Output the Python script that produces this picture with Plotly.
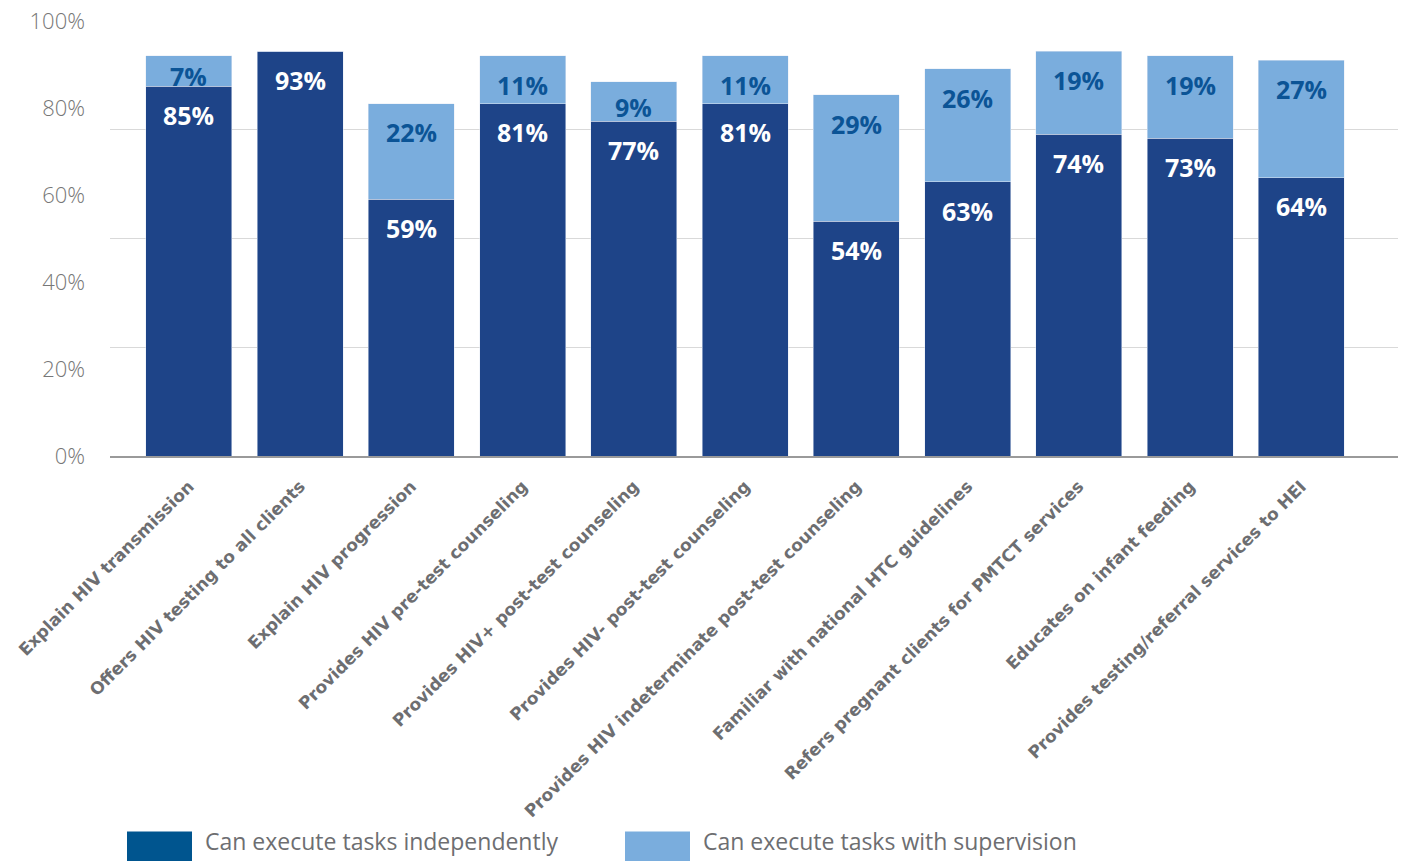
import plotly.graph_objects as go

categories = [
    "Explain HIV transmission",
    "Offers HIV testing to all clients",
    "Explain HIV progression",
    "Provides HIV pre-test counseling",
    "Provides HIV+ post-test counseling",
    "Provides HIV- post-test counseling",
    "Provides HIV indeterminate post-test counseling",
    "Familiar with national HTC guidelines",
    "Refers pregnant clients for PMTCT services",
    "Educates on infant feeding",
    "Provides testing/referral services to HEI",
]
independent = [85, 93, 59, 81, 77, 81, 54, 63, 74, 73, 64]
supervision = [7, 0, 22, 11, 9, 11, 29, 26, 19, 19, 27]
series_names = ["Can execute tasks independently", "Can execute tasks with supervision"]
y_ticks = [0, 20, 40, 60, 80, 100]

DARK = "#1e4488"
LIGHT = "#7aaddd"
LEG_DARK = "#00558f"
LABEL_BLUE = "#0b5496"
GRAY = "#6d6e71"

x = list(range(len(categories)))

fig = go.Figure()
fig.add_trace(go.Bar(x=x, y=independent, name=series_names[0], marker_color=DARK,
                     width=0.773, showlegend=False, hoverinfo="y"))
fig.add_trace(go.Bar(x=x, y=supervision, name=series_names[1], marker_color=LIGHT,
                     width=0.773, showlegend=False, hoverinfo="y"))

annotations = []
for i in x:
    d = independent[i]
    s = supervision[i]
    annotations.append(dict(x=i, y=d - min(6.6, d / 2), xref="x", yref="y",
                            text=f"{d}%", showarrow=False,
                            font=dict(family="Open Sans", size=25, color="white", weight=700)))
    if s > 0:
        annotations.append(dict(x=i, y=d + s - min(6.6, s / 2 + 1.2), xref="x", yref="y",
                                text=f"{s}%", showarrow=False,
                                font=dict(family="Open Sans", size=25, color=LABEL_BLUE, weight=700)))

# custom legend
legend_colors = [LEG_DARK, LIGHT]
legend_x0 = [127, 625]
W, H = 1403, 861
ml, mr, mt, mb = 110, 5, 17, 405
pw = W - ml - mr
ph = H - mt - mb
shapes = []
for k, name in enumerate(series_names):
    x0 = (legend_x0[k] - ml) / pw
    x1 = (legend_x0[k] + 65 - ml) / pw
    y0 = (H - mb - 866) / ph
    y1 = (H - mb - 835) / ph
    shapes.append(dict(type="rect", xref="paper", yref="paper", x0=x0, x1=x1, y0=y0, y1=y1,
                       fillcolor=legend_colors[k], line_width=0))
    annotations.append(dict(xref="paper", yref="paper", x=(legend_x0[k] + 76 - ml) / pw,
                            y=(H - mb - 845) / ph, xanchor="left", yanchor="middle",
                            text=name, showarrow=False,
                            font=dict(family="Open Sans", size=23, color=GRAY)))

fig.update_layout(
    width=W, height=H,
    margin=dict(l=ml, r=mr, t=mt, b=mb),
    barmode="stack",
    plot_bgcolor="white", paper_bgcolor="white",
    xaxis=dict(range=[-0.71, 10.87], tickmode="array", tickvals=x, ticktext=categories,
               tickangle=-45, showgrid=False, showline=True, linecolor="#9a9a9a", linewidth=1.5,
               ticks="", zeroline=False, ticklabelstandoff=12,
               tickfont=dict(family="DejaVu Sans", size=17, color=GRAY, weight=700)),
    yaxis=dict(range=[0, 100], tickmode="array", tickvals=[0, 25, 50, 75, 100],
               showticklabels=False, showgrid=True, gridcolor="#d9d9d9", gridwidth=1,
               zeroline=False, showline=False, ticks=""),
    yaxis2=dict(range=[0, 100], overlaying="y", side="left", tickmode="array",
                tickvals=y_ticks, ticktext=[f"{v}%" for v in y_ticks], showgrid=False,
                zeroline=False, showline=False, ticks="", ticklabelstandoff=24,
                tickfont=dict(family="Open Sans", size=22, color="#777777", weight=300)),
    annotations=annotations,
    shapes=shapes,
)
fig.add_trace(go.Scatter(x=[None], y=[None], yaxis="y2", showlegend=False, hoverinfo="skip"))

fig.write_html("out.html")
